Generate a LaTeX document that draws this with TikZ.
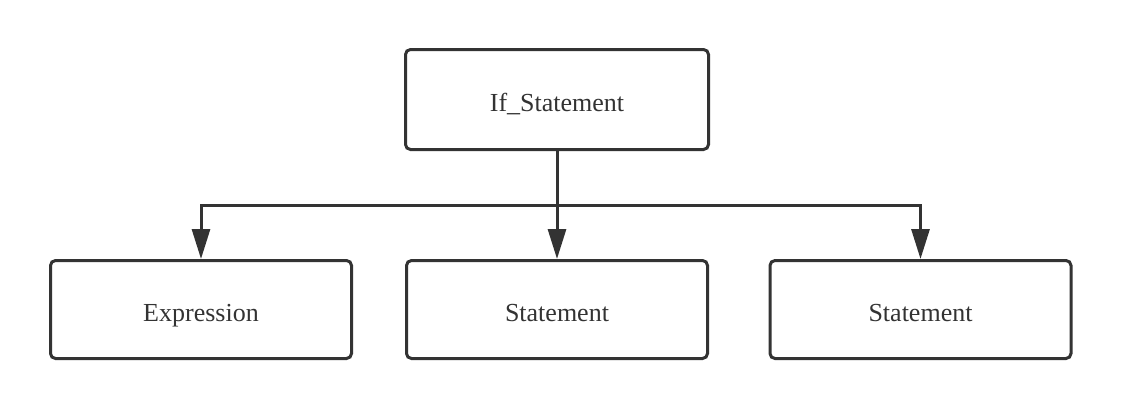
\documentclass[tikz,border=0pt]{standalone}
\usepackage{fontspec}
\setmainfont{Liberation Serif}
\usepackage{tikz}
\usetikzlibrary{arrows.meta}
\definecolor{ink}{HTML}{333333}

\begin{document}
\begin{tikzpicture}[x=1pt,y=-1pt,>={Triangle[width=18pt,length=30pt]},
  box/.style={draw=ink,line width=3pt,rounded corners=5pt,text=ink,
    minimum width=301pt,minimum height=98pt,text height=24pt,text depth=0pt,
    font=\fontsize{26}{30}\selectfont},
  link/.style={draw=ink,line width=3pt}]
  \useasboundingbox (0,0) rectangle (1122,410);
  \node[box,minimum width=303pt,minimum height=100pt] (ifst) at (557,99.5) {If\_Statement};
  \node[box] (expr) at (201,309.5) {Expression};
  \node[box] (stmt1) at (557,309.5) {Statement};
  \node[box] (stmt2) at (920.5,309.5) {Statement};
  \coordinate (fork) at (557,205);
  \path[link] (ifst.south) -- (fork);
  \path[link,->] (fork) -| (expr.north);
  \path[link,->] (fork) -- (stmt1.north);
  \path[link,->] (fork) -| (stmt2.north);
\end{tikzpicture}
\end{document}
